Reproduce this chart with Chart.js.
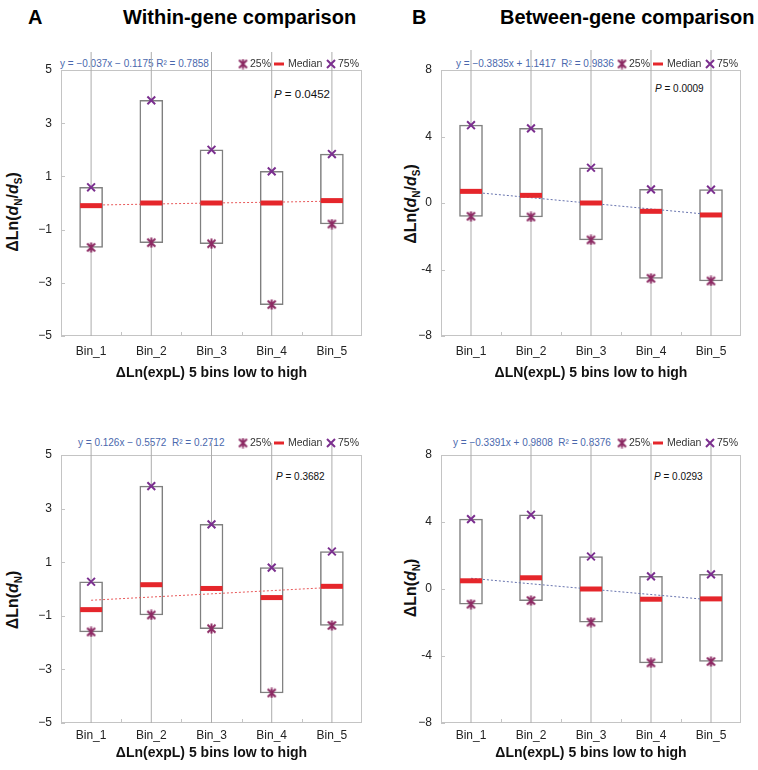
<!DOCTYPE html>
<html><head><meta charset="utf-8">
<script src="https://cdn.jsdelivr.net/npm/chart.js@4/dist/chart.umd.min.js"></script>
<style>
body{margin:0;background:#fff;font-family:'Liberation Sans',Arial,sans-serif;}
#wrap{position:relative;width:758px;height:770px;overflow:hidden;background:#fff;}
.abs{position:absolute;white-space:nowrap;}
.hdr{font-weight:bold;font-size:20px;line-height:20px;color:#000;}
.eq{font-size:10px;line-height:12px;color:#4a68ad;}
.pv{font-size:10px;line-height:12px;color:#111;}
.ytitle{font-weight:bold;font-size:16px;line-height:18px;color:#111;transform:translate(-50%,-50%) rotate(-90deg);}
.ytitle sub{font-size:10px;}
canvas{position:absolute;}
</style></head>
<body>
<div id="wrap">
  <div class="abs hdr" style="left:28px;top:7px">A</div>
  <div class="abs hdr" style="left:123px;top:7px">Within-gene comparison</div>
  <div class="abs hdr" style="left:412px;top:7px">B</div>
  <div class="abs hdr" style="left:500px;top:7px">Between-gene comparison</div>

  <div class="abs eq" style="left:60px;top:58px">y = −0.037x − 0.1175 R² = 0.7858</div>
  <div class="abs eq" style="left:456px;top:58px">y = −0.3835x + 1.1417&nbsp; R² = 0.9836</div>
  <div class="abs eq" style="left:78px;top:437px">y = 0.126x − 0.5572&nbsp; R² = 0.2712</div>
  <div class="abs eq" style="left:453px;top:437px">y = −0.3391x + 0.9808&nbsp; R² = 0.8376</div>

  <div class="abs pv" style="left:274px;top:87px;font-size:11.5px;line-height:14px"><i>P</i> = 0.0452</div>
  <div class="abs pv" style="left:655px;top:83px"><i>P</i> = 0.0009</div>
  <div class="abs pv" style="left:276px;top:471px"><i>P</i> = 0.3682</div>
  <div class="abs pv" style="left:654px;top:471px"><i>P</i> = 0.0293</div>

  <div class="abs ytitle" style="left:16px;top:212px">ΔLn(<i>d</i><sub>N</sub>/<i>d</i><sub>S</sub>)</div>
  <div class="abs ytitle" style="left:414px;top:204px">ΔLn(<i>d</i><sub>N</sub>/<i>d</i><sub>S</sub>)</div>
  <div class="abs ytitle" style="left:16px;top:600px">ΔLn(<i>d</i><sub>N</sub>)</div>
  <div class="abs ytitle" style="left:414px;top:588px">ΔLn(<i>d</i><sub>N</sub>)</div>

  <canvas id="cA" width="379" height="350" style="left:0px;top:40px;width:379px;height:350px"></canvas>
  <canvas id="cB" width="379" height="350" style="left:379px;top:40px;width:379px;height:350px"></canvas>
  <canvas id="cC" width="379" height="345" style="left:0px;top:425px;width:379px;height:345px"></canvas>
  <canvas id="cD" width="379" height="345" style="left:379px;top:425px;width:379px;height:345px"></canvas>
</div>
<script>
// ---------- data ----------
const categories = ['Bin_1', 'Bin_2', 'Bin_3', 'Bin_4', 'Bin_5'];

// Panel A: within-gene, ΔLn(dN/dS)
const aQ25 = [-1.67, -1.49, -1.53, -3.82, -0.79];
const aQ75 = [0.59, 3.86, 2.0, 1.19, 1.84];
const aMedian = [-0.1, 0.0, 0.0, 0.0, 0.09];
const aTrend = [-0.08, -0.04, 0.0, 0.03, 0.07];
const aWhiskerLow = [-5, -5, -5, -5, -5];
const aWhiskerHigh = [5.68, 5.68, 5.68, 5.68, 5.68];
const aYTicks = ['−5', '−3', '−1', '1', '3', '5'];

// Panel B: between-gene, ΔLn(dN/dS)
const bQ25 = [-0.8, -0.84, -2.22, -4.53, -4.69];
const bQ75 = [4.68, 4.49, 2.12, 0.82, 0.8];
const bMedian = [0.70, 0.46, 0.0, -0.5, -0.72];
const bTrend = [0.66, 0.32, -0.02, -0.36, -0.70];
const bWhiskerLow = [-8, -8, -8, -8, -8];
const bWhiskerHigh = [9.2, 9.2, 9.2, 9.2, 9.2];
const bYTicks = ['−8', '-4', '0', '4', '8'];

// Panel C: within-gene, ΔLn(dN)
const cQ25 = [-1.6, -0.97, -1.48, -3.88, -1.36];
const cQ75 = [0.27, 3.84, 2.41, 0.8, 1.4];
const cMedian = [-0.77, 0.16, 0.02, -0.32, 0.1];
const cTrend = [-0.42, -0.30, -0.18, -0.06, 0.06];
const cWhiskerLow = [-5, -5, -5, -5, -5];
const cWhiskerHigh = [5.45, 5.45, 5.45, 5.45, 5.45];
const cYTicks = ['−5', '−3', '−1', '1', '3', '5'];

// Panel D: between-gene, ΔLn(dN)
const dQ25 = [-0.91, -0.69, -1.98, -4.41, -4.33];
const dQ75 = [4.17, 4.43, 1.94, 0.75, 0.87];
const dMedian = [0.49, 0.67, 0.0, -0.61, -0.59];
const dTrend = [0.64, 0.31, -0.01, -0.33, -0.65];
const dWhiskerLow = [-8, -8, -8, -8, -8];
const dWhiskerHigh = [8.7, 8.7, 8.7, 8.7, 8.7];
const dYTicks = ['−8', '-4', '0', '4', '8'];

const legendLabels = ['25%', 'Median', '75%'];

// ---------- styles ----------
const FONT = "'Liberation Sans', Arial, sans-serif";
const RED = '#e5262b';
const Q25C = '#8c2a63';
const Q75C = '#7b2f8f';

function starMarker(color) {
  const c = document.createElement('canvas');
  c.width = 11; c.height = 11;
  const g = c.getContext('2d');
  g.strokeStyle = color; g.lineWidth = 2;
  g.beginPath();
  g.moveTo(1.5, 1.5); g.lineTo(9.5, 9.5);
  g.moveTo(9.5, 1.5); g.lineTo(1.5, 9.5);
  g.moveTo(5.5, 0.5); g.lineTo(5.5, 10.5);
  g.stroke();
  return c;
}
const STAR = starMarker(Q25C);

const framePlugin = {
  id: 'frame',
  beforeDatasetsDraw(chart) {
    const {ctx, chartArea: a} = chart;
    ctx.save();
    ctx.strokeStyle = '#c4c4c4';
    ctx.lineWidth = 1;
    ctx.strokeRect(Math.round(a.left) + 0.5, Math.round(a.top) + 0.5, Math.round(a.width) - 1, Math.round(a.height) - 1);
    const y = chart.scales.y;
    y.ticks.forEach(t => {
      const py = Math.round(y.getPixelForValue(t.value)) + 0.5;
      ctx.beginPath(); ctx.moveTo(a.left, py); ctx.lineTo(a.left + 4, py); ctx.stroke();
    });
    const x = chart.scales.x;
    for (let i = 0; i < categories.length - 1; i++) {
      const px = Math.round((x.getPixelForValue(i) + x.getPixelForValue(i + 1)) / 2) + 0.5;
      ctx.beginPath(); ctx.moveTo(px, a.bottom); ctx.lineTo(px, a.bottom - 4); ctx.stroke();
    }
    ctx.restore();
  }
};

const legendPlugin = {
  id: 'rowLegend',
  afterDraw(chart, args, opts) {
    const ctx = chart.ctx;
    const y = opts.y;
    ctx.save();
    ctx.font = '10.5px ' + FONT;
    ctx.fillStyle = '#333';
    ctx.textBaseline = 'middle';
    ctx.textAlign = 'left';
    ctx.drawImage(STAR, 243 - 5.5, y - 5.5);
    ctx.fillText(legendLabels[0], 250, y + 0.5);
    ctx.strokeStyle = RED; ctx.lineWidth = 3;
    ctx.beginPath(); ctx.moveTo(274, y); ctx.lineTo(284, y); ctx.stroke();
    ctx.fillText(legendLabels[1], 288, y + 0.5);
    ctx.strokeStyle = Q75C; ctx.lineWidth = 2;
    ctx.beginPath();
    ctx.moveTo(327, y - 4); ctx.lineTo(335, y + 4);
    ctx.moveTo(335, y - 4); ctx.lineTo(327, y + 4);
    ctx.stroke();
    ctx.fillText(legendLabels[2], 338, y + 0.5);
    ctx.restore();
  }
};

function makeChart(id, p) {
  const pairs = (lo, hi) => categories.map((_, i) => [lo[i], hi[i]]);
  return new Chart(document.getElementById(id), {
    type: 'bar',
    data: {
      labels: categories,
      datasets: [
        {
          label: 'whisker', type: 'bar', data: pairs(p.wLow, p.wHigh), grouped: false,
          barThickness: 1, inflateAmount: 0, backgroundColor: '#acacac', borderWidth: 0, clip: false, order: 6
        },
        {
          label: 'box', type: 'bar', data: pairs(p.q25, p.q75), grouped: false,
          barThickness: 23, backgroundColor: '#ffffff', borderColor: '#7f7f7f', borderWidth: 1.5,
          borderSkipped: false, order: 5
        },
        {
          label: 'trend', type: 'line', data: p.trend, borderColor: p.trendColor, borderWidth: 1,
          borderDash: [2, 2], pointRadius: 0, fill: false, order: 4
        },
        {
          label: legendLabels[1], type: 'line', data: p.median, showLine: false,
          pointStyle: 'line', pointRadius: 11, pointBorderWidth: 5, pointBorderColor: RED,
          pointBackgroundColor: RED, order: 3
        },
        {
          label: legendLabels[0], type: 'line', data: p.q25, showLine: false,
          pointStyle: STAR, pointRadius: 5, order: 2, clip: false
        },
        {
          label: legendLabels[2], type: 'line', data: p.q75, showLine: false,
          pointStyle: 'crossRot', pointRadius: 5.5, pointBorderWidth: 2, pointBorderColor: Q75C, order: 1, clip: false
        }
      ]
    },
    options: {
      responsive: false, animation: false, events: [],
      layout: {padding: {left: 0, right: 17, top: 30, bottom: 0}},
      plugins: {
        legend: {display: false}, tooltip: {enabled: false},
        rowLegend: {y: p.legendY}
      },
      scales: {
        x: {
          type: 'category', offset: true,
          grid: {display: false, drawTicks: false}, border: {display: false},
          ticks: {color: '#222', font: {size: 12, family: FONT}, padding: p.xTickPad, maxRotation: 0, autoSkip: false},
          title: {display: true, text: p.xTitle, color: '#111', font: {size: 14, weight: 'bold', family: FONT},
                  padding: {top: 0, bottom: p.xTitlePad}},
          afterFit: s => { s.height = p.xAxisH; }
        },
        y: {
          min: p.min, max: p.max,
          grid: {display: false, drawTicks: false}, border: {display: false},
          ticks: {stepSize: p.step, color: '#222', font: {size: 12, family: FONT}, padding: 9,
                  callback: (v, i) => p.yTicks[i]},
          afterFit: s => { s.width = p.yAxisW; }
        }
      }
    },
    plugins: [framePlugin, legendPlugin]
  });
}

makeChart('cA', {q25: aQ25, q75: aQ75, median: aMedian, trend: aTrend, wLow: aWhiskerLow, wHigh: aWhiskerHigh,
  yTicks: aYTicks, min: -5, max: 5, step: 2, trendColor: '#e8595a', xTitle: 'ΔLn(expL) 5 bins low to high',
  xAxisH: 54, xTickPad: 8, xTitlePad: 8.5, yAxisW: 61, legendY: 24});
makeChart('cB', {q25: bQ25, q75: bQ75, median: bMedian, trend: bTrend, wLow: bWhiskerLow, wHigh: bWhiskerHigh,
  yTicks: bYTicks, min: -8, max: 8, step: 4, trendColor: '#6672ad', xTitle: 'ΔLN(expL) 5 bins low to high',
  xAxisH: 54, xTickPad: 8, xTitlePad: 8.5, yAxisW: 62, legendY: 24});
makeChart('cC', {q25: cQ25, q75: cQ75, median: cMedian, trend: cTrend, wLow: cWhiskerLow, wHigh: cWhiskerHigh,
  yTicks: cYTicks, min: -5, max: 5, step: 2, trendColor: '#e8595a', xTitle: 'ΔLn(expL) 5 bins low to high',
  xAxisH: 47, xTickPad: 5, xTitlePad: 8, yAxisW: 61, legendY: 18});
makeChart('cD', {q25: dQ25, q75: dQ75, median: dMedian, trend: dTrend, wLow: dWhiskerLow, wHigh: dWhiskerHigh,
  yTicks: dYTicks, min: -8, max: 8, step: 4, trendColor: '#6672ad', xTitle: 'ΔLn(expL) 5 bins low to high',
  xAxisH: 47, xTickPad: 5, xTitlePad: 8, yAxisW: 62, legendY: 18});
</script>
</body></html>
